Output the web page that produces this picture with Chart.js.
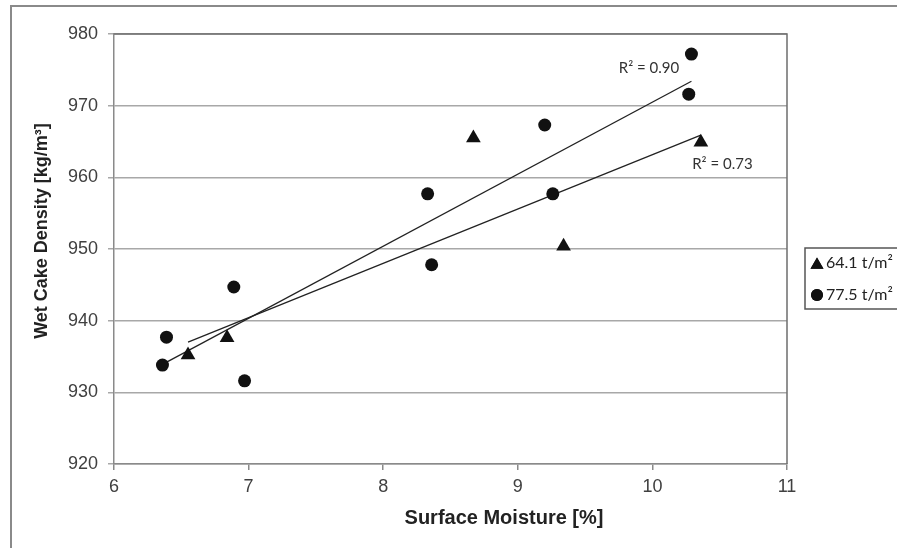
<!DOCTYPE html>
<html>
<head>
<meta charset="utf-8">
<script src="https://cdn.jsdelivr.net/npm/chart.js@4.4.1/dist/chart.umd.min.js"></script>
<style>
  html, body { margin: 0; padding: 0; background: #fff; }
  #wrap { width: 897px; height: 548px; }
</style>
</head>
<body>
<div id="wrap"><canvas id="myChart"></canvas></div>
<script>
// 64.1 t/m² series (triangles)
const triX = [6.55, 6.84, 8.67, 9.34, 10.36];
const triY = [935.2, 937.6, 965.5, 950.4, 964.9];
// 77.5 t/m² series (circles)
const circX = [6.36, 6.39, 6.89, 6.97, 8.33, 8.36, 9.20, 9.26, 10.27, 10.29];
const circY = [933.8, 937.7, 944.7, 931.6, 957.7, 947.8, 967.3, 957.7, 971.6, 977.2];
// trend line end points
const triTrendX = [6.55, 10.36];
const triTrendY = [937.0, 965.9];
const circTrendX = [6.36, 10.29];
const circTrendY = [933.9, 973.4];
const seriesLabels = ['64.1 t/m²', '77.5 t/m²'];
const r2Labels = ['R² = 0.90', 'R² = 0.73'];

const pts = (xs, ys) => xs.map((x, i) => ({ x: x, y: ys[i] }));

const chart_el = document.getElementById('myChart');

const extras = {
    id: 'extras',
    beforeDraw(chart) {
        const ctx = chart.ctx;
        ctx.save();
        ctx.fillStyle = '#fff';
        ctx.fillRect(0, 0, chart.width, chart.height);
        // outer frame, runs off the right and bottom edges
        ctx.strokeStyle = '#8a8a8a';
        ctx.lineWidth = 2;
        ctx.strokeRect(11, 6, 900, 560);
        ctx.restore();
    },
    afterDraw(chart) {
        const ctx = chart.ctx;
        const a = chart.chartArea;
        const xs = chart.scales.x, ys = chart.scales.y;
        ctx.save();
        // top + right border of plot area
        ctx.strokeStyle = '#6e6e6e';
        ctx.lineWidth = 1.5;
        ctx.beginPath();
        ctx.moveTo(a.left, a.top);
        ctx.lineTo(a.right, a.top);
        ctx.lineTo(a.right, a.bottom);
        ctx.stroke();

        // axis titles
        ctx.fillStyle = '#222';
        ctx.font = 'bold 20px "Liberation Sans", Arial, sans-serif';
        ctx.textAlign = 'center';
        ctx.textBaseline = 'middle';
        ctx.fillText('Surface Moisture [%]', 504, 518);
        ctx.save();
        ctx.translate(42, 231);
        ctx.rotate(-Math.PI / 2);
        ctx.font = 'bold 18px "Liberation Sans", Arial, sans-serif';
        ctx.fillText('Wet Cake Density [kg/m³]', 0, 0);
        ctx.restore();

        // R² labels
        ctx.font = '15px Lato, "Open Sans", sans-serif';
        ctx.fillStyle = '#333';
        ctx.fillText(r2Labels[0], xs.getPixelForValue(9.975), ys.getPixelForValue(975.3));
        ctx.fillText(r2Labels[1], xs.getPixelForValue(10.52), ys.getPixelForValue(961.9));

        // legend box
        ctx.strokeStyle = '#555';
        ctx.lineWidth = 1.5;
        ctx.strokeRect(805, 248, 120, 61);
        ctx.fillStyle = '#111';
        Chart.helpers.drawPoint(ctx, { pointStyle: 'triangle', radius: 7.5, borderWidth: 0 }, 817, 265);
        ctx.fill();
        Chart.helpers.drawPoint(ctx, { pointStyle: 'circle', radius: 6, borderWidth: 0 }, 817, 295);
        ctx.fill();
        ctx.textAlign = 'left';
        ctx.fillStyle = '#222';
        ctx.font = '16px Lato, "Open Sans", sans-serif';
        ctx.fillText(seriesLabels[0], 826, 263);
        ctx.fillText(seriesLabels[1], 826, 295);
        ctx.restore();
    }
};

const myChart = new Chart(chart_el, {
    type: 'scatter',
    data: {
        datasets: [
            {
                label: seriesLabels[0],
                data: pts(triX, triY),
                pointStyle: 'triangle',
                pointRadius: 8.5,
                backgroundColor: '#111',
                borderColor: '#111',
                borderWidth: 0
            },
            {
                label: seriesLabels[1],
                data: pts(circX, circY),
                pointStyle: 'circle',
                pointRadius: 6.5,
                backgroundColor: '#111',
                borderColor: '#111',
                borderWidth: 0
            },
            {
                label: 'trend 64.1',
                data: pts(triTrendX, triTrendY),
                showLine: true,
                pointRadius: 0,
                borderColor: '#222',
                borderWidth: 1.3
            },
            {
                label: 'trend 77.5',
                data: pts(circTrendX, circTrendY),
                showLine: true,
                pointRadius: 0,
                borderColor: '#222',
                borderWidth: 1.3
            }
        ]
    },
    options: {
        responsive: true,
        maintainAspectRatio: false,
        animation: false,
        events: [],
        layout: { padding: { top: 34, right: 110, left: 0, bottom: 0 } },
        plugins: {
            legend: { display: false },
            tooltip: { enabled: false }
        },
        scales: {
            x: {
                type: 'linear',
                min: 6,
                max: 11,
                afterFit: (s) => { s.height = 84; },
                ticks: {
                    stepSize: 1,
                    padding: 6,
                    color: '#404040',
                    font: { family: '"Liberation Sans", Arial, sans-serif', size: 18 }
                },
                grid: { drawOnChartArea: false, tickLength: 6, color: '#8a8a8a', lineWidth: 1.5 },
                border: { color: '#8a8a8a', width: 1.5 }
            },
            y: {
                min: 920,
                max: 980,
                afterFit: (s) => { s.width = 114; },
                ticks: {
                    stepSize: 10,
                    padding: 10,
                    color: '#404040',
                    font: { family: '"Liberation Sans", Arial, sans-serif', size: 18 }
                },
                grid: { color: '#a8a8a8', lineWidth: 1.5, tickLength: 6 },
                border: { color: '#8a8a8a', width: 1.5 }
            }
        }
    },
    plugins: [extras]
});
</script>
</body>
</html>
